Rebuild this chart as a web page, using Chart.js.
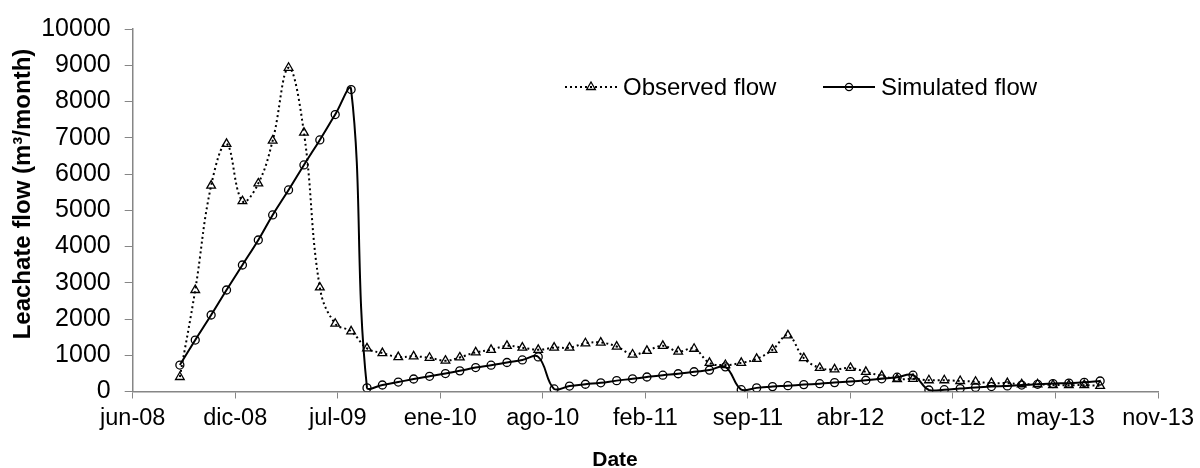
<!DOCTYPE html>
<html>
<head>
<meta charset="utf-8">
<script src="https://cdn.jsdelivr.net/npm/chart.js@4.4.0/dist/chart.umd.min.js"></script>
<style>
  html, body { margin: 0; padding: 0; background: #fff; }
  #wrap { width: 1200px; height: 468px; position: relative; }
</style>
</head>
<body>
<div id="wrap"><canvas id="flow-chart"></canvas></div>
<script>
// monthly values, sep-08 .. ago-13 (one row per hydrological year)
const months = [
  '2008-09','2008-10','2008-11','2008-12','2009-01','2009-02','2009-03','2009-04','2009-05','2009-06','2009-07','2009-08',
  '2009-09','2009-10','2009-11','2009-12','2010-01','2010-02','2010-03','2010-04','2010-05','2010-06','2010-07','2010-08',
  '2010-09','2010-10','2010-11','2010-12','2011-01','2011-02','2011-03','2011-04','2011-05','2011-06','2011-07','2011-08',
  '2011-09','2011-10','2011-11','2011-12','2012-01','2012-02','2012-03','2012-04','2012-05','2012-06','2012-07','2012-08',
  '2012-09','2012-10','2012-11','2012-12','2013-01','2013-02','2013-03','2013-04','2013-05','2013-06','2013-07','2013-08'
]
const observedFlow = [
  400, 2800, 5680, 6830, 5250, 5740, 6920, 8930, 7140, 2870, 1870, 1660,
  1190, 1060, 950, 970, 930, 850, 940, 1080, 1150, 1260, 1210, 1150,
  1210, 1210, 1330, 1350, 1240, 1020, 1120, 1260, 1100, 1180, 790, 730,
  790, 900, 1150, 1550, 920, 650, 610, 650, 540, 430, 340, 350,
  310, 310, 290, 270, 230, 230, 200, 200, 180, 175, 175, 155
]
const simulatedFlow = [
  730, 1420, 2110, 2800, 3490, 4180, 4870, 5560, 6250, 6940, 7640, 8330,
  100, 180, 260, 345, 420, 495, 570, 660, 725, 800, 870, 955,
  70, 150, 200, 240, 300, 350, 400, 450, 490, 545, 590, 680,
  50, 100, 135, 160, 190, 215, 245, 275, 310, 350, 395, 450,
  42, 50, 82, 112, 136, 155, 177, 199, 220, 231, 252, 289
]
// x axis is an Excel serial date axis: jun-08 .. nov-13 every 200 days
const xMin = 39600
const xMax = 41600
const xStep = 200
const yMax = 10000
const yStep = 1000
const mesesES = ['ene','feb','mar','abr','may','jun','jul','ago','sep','oct','nov','dic']

const EXCEL_EPOCH = Date.UTC(1899, 11, 30)
const DAY = 86400000

function toSerial(ym) {
    let [y, m] = ym.split('-').map(Number)
    return (Date.UTC(y, m - 1, 1) - EXCEL_EPOCH) / DAY
}

function serialLabel(v) {
    let d = new Date(EXCEL_EPOCH + v * DAY)
    return mesesES[d.getUTCMonth()] + '-' + String(d.getUTCFullYear()).slice(2)
}

const FONT = '"Liberation Sans", Arial, sans-serif'
const AXIS_GREY = '#868686'

// legend + axis titles drawn where excel put them
const excelDecor = {
    id: 'excelDecor',
    afterDraw(chart) {
        const ctx = chart.ctx
        ctx.save()
        ctx.fillStyle = '#000'
        ctx.strokeStyle = '#000'

        // legend
        const ly = 87
        const items = [
            {label: 'Observed flow', x0: 565, dash: [2, 3], style: 'triangle', r: 5, tx: 623},
            {label: 'Simulated flow', x0: 823, dash: [], style: 'circle', r: 3.6, tx: 881}
        ]
        items.forEach(it => {
            ctx.lineWidth = 2
            ctx.setLineDash(it.dash)
            ctx.beginPath()
            ctx.moveTo(it.x0, ly)
            ctx.lineTo(it.x0 + 52, ly)
            ctx.stroke()
            ctx.setLineDash([])
            ctx.lineWidth = 1.3
            ctx.fillStyle = 'rgba(0,0,0,0)'
            Chart.helpers.drawPoint(ctx, {pointStyle: it.style, radius: it.r, borderWidth: 1.3, rotation: 0}, it.x0 + 26, ly)
            ctx.fillStyle = '#000'
            ctx.font = '24px ' + FONT
            ctx.textAlign = 'left'
            ctx.textBaseline = 'middle'
            ctx.fillText(it.label, it.tx, ly + 1)
        })

        // axis titles
        ctx.font = 'bold 21px ' + FONT
        ctx.textAlign = 'center'
        ctx.textBaseline = 'middle'
        ctx.fillText('Date', 615, 460)

        ctx.translate(23, 194)
        ctx.rotate(-Math.PI / 2)
        ctx.font = 'bold 24px ' + FONT
        ctx.fillText('Leachate flow (m\u00B3/month)', 0, 0)
        ctx.restore()
    }
}

function makeFlowChart() {
    let canvas = document.getElementById('flow-chart')
    const xs = months.map(toSerial)
    return new Chart(canvas, {
        type: 'line',
        data: {
            datasets: [
                {
                    label: 'Observed flow',
                    data: xs.map((x, i) => ({x: x, y: observedFlow[i]})),
                    borderColor: '#000',
                    borderWidth: 2,
                    borderDash: [2, 3],
                    borderCapStyle: 'butt',
                    tension: 0.4,
                    pointStyle: 'triangle',
                    pointRadius: 5,
                    pointBorderWidth: 1.3,
                    pointBorderColor: '#000',
                    pointBackgroundColor: 'rgba(0,0,0,0)'
                },
                {
                    label: 'Simulated flow',
                    data: xs.map((x, i) => ({x: x, y: simulatedFlow[i]})),
                    borderColor: '#000',
                    borderWidth: 2,
                    tension: 0.4,
                    pointStyle: 'circle',
                    pointRadius: 4,
                    pointBorderWidth: 1.3,
                    pointBorderColor: '#000',
                    pointBackgroundColor: 'rgba(0,0,0,0)'
                }
            ]
        },
        options: {
            responsive: true,
            maintainAspectRatio: false,
            animation: false,
            devicePixelRatio: 1,
            layout: {padding: {left: 0, right: 37, top: 23, bottom: 0}},
            plugins: {
                legend: {display: false},
                tooltip: {enabled: false}
            },
            scales: {
                x: {
                    type: 'linear',
                    min: xMin,
                    max: xMax,
                    afterFit: (scale) => { scale.height = 76.5 },
                    grid: {drawOnChartArea: false, drawTicks: true, tickLength: 7, color: AXIS_GREY},
                    border: {color: AXIS_GREY, width: 1.5},
                    ticks: {
                        stepSize: xStep,
                        padding: 6,
                        maxRotation: 0,
                        autoSkip: false,
                        color: '#000',
                        font: {family: FONT, size: 23.5},
                        callback: (v) => serialLabel(v)
                    }
                },
                y: {
                    min: 0,
                    max: yMax,
                    afterFit: (scale) => { scale.width = 132.7 },
                    grid: {drawOnChartArea: false, drawTicks: true, tickLength: 8, color: AXIS_GREY},
                    border: {color: AXIS_GREY, width: 1.5},
                    ticks: {
                        stepSize: yStep,
                        padding: 14,
                        color: '#000',
                        font: {family: FONT, size: 25},
                        callback: (v) => String(v)
                    }
                }
            }
        },
        plugins: [excelDecor]
    })
}

flowChart = makeFlowChart()
</script>
</body>
</html>
